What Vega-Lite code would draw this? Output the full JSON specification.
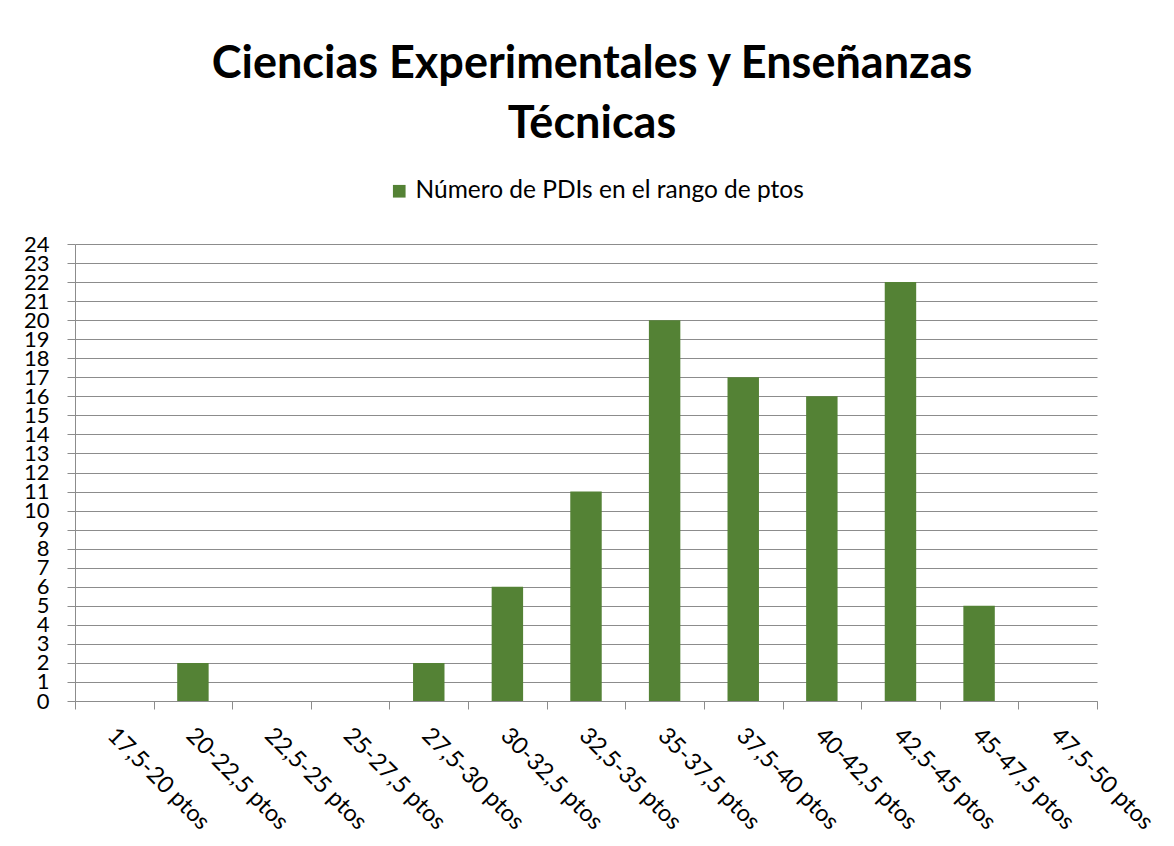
{
  "$schema": "https://vega.github.io/schema/vega-lite/v6.json",
  "width": 1022,
  "height": 457,
  "autosize": {"type": "none"},
  "padding": {"left": 75, "top": 244, "right": 77, "bottom": 145},
  "background": "white",
  "title": {
    "text": ["Ciencias Experimentales y Enseñanzas", "Técnicas"],
    "font": "Lato",
    "fontSize": 45,
    "fontWeight": "bold",
    "color": "#000000",
    "anchor": "middle",
    "lineHeight": 60,
    "offset": 32,
    "dx": 6
  },
  "data": {
    "values": [
      {"rango": "17,5-20 ptos", "n": 0},
      {"rango": "20-22,5 ptos", "n": 2},
      {"rango": "22,5-25 ptos", "n": 0},
      {"rango": "25-27,5 ptos", "n": 0},
      {"rango": "27,5-30 ptos", "n": 2},
      {"rango": "30-32,5 ptos", "n": 6},
      {"rango": "32,5-35 ptos", "n": 11},
      {"rango": "35-37,5 ptos", "n": 20},
      {"rango": "37,5-40 ptos", "n": 17},
      {"rango": "40-42,5 ptos", "n": 16},
      {"rango": "42,5-45 ptos", "n": 22},
      {"rango": "45-47,5 ptos", "n": 5},
      {"rango": "47,5-50 ptos", "n": 0}
    ]
  },
  "mark": {"type": "bar", "width": {"band": 0.4}},
  "encoding": {
    "x": {
      "field": "rango",
      "type": "nominal",
      "sort": null,
      "scale": {"paddingInner": 0, "paddingOuter": 0},
      "axis": {
        "title": null,
        "tickBand": "extent",
        "ticks": true,
        "tickSize": 8,
        "tickColor": "#8c8c8c",
        "domainColor": "#8c8c8c",
        "labelAngle": 45,
        "labelAlign": "left",
        "labelBaseline": "top",
        "labelPadding": 14,
        "labelOffset": 5,
        "labelFont": "Lato",
        "labelFontSize": 23.5,
        "labelColor": "#000000",
        "labelOverlap": false,
        "labelBound": false,
        "grid": false
      }
    },
    "y": {
      "field": "n",
      "type": "quantitative",
      "scale": {"domain": [0, 24], "nice": false},
      "axis": {
        "title": null,
        "values": [0,1,2,3,4,5,6,7,8,9,10,11,12,13,14,15,16,17,18,19,20,21,22,23,24],
        "grid": true,
        "gridColor": "#8c8c8c",
        "tickSize": 8,
        "tickColor": "#8c8c8c",
        "domainColor": "#8c8c8c",
        "labelPadding": 18,
        "labelFont": "Lato",
        "labelFontSize": 22,
        "labelColor": "#000000",
        "labelOverlap": false,
        "labelBound": false
      }
    },
    "color": {
      "datum": "Número de PDIs en el rango de ptos",
      "type": "nominal",
      "scale": {"range": ["#548235"]},
      "legend": {
        "title": null,
        "orient": "none",
        "legendX": 312,
        "legendY": -65,
        "symbolType": "square",
        "symbolSize": 160,
        "symbolStrokeWidth": 0,
        "labelFont": "Lato",
        "labelFontSize": 24.5,
        "labelColor": "#000000",
        "labelLimit": 700
      }
    }
  },
  "config": {"view": {"stroke": null}}
}
